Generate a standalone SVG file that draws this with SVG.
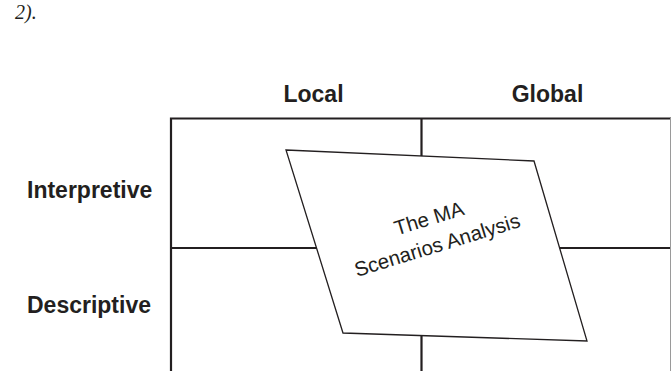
<svg xmlns="http://www.w3.org/2000/svg" width="671" height="371" viewBox="0 0 671 371">
<style>
.grid{stroke:#231f20;stroke-width:2.2;fill:none}
.hdr{font-family:"Liberation Sans",Arial,sans-serif;font-weight:bold;font-size:23px;fill:#231f20}
.ma{font-family:"Liberation Sans",Arial,sans-serif;font-size:20.5px;fill:#231f20;text-anchor:middle}
.para{fill:#fff;stroke:#231f20;stroke-width:1.3}
</style>
<rect width="671" height="371" fill="#fff"/>
<text x="15" y="19" font-family="'Liberation Serif',serif" font-style="italic" font-size="20" fill="#231f20">2).</text>
<g id="grid">
<path class="grid" d="M171,371 V118.5 H671 M421.5,118.5 V371 M171,248 H671"/>
<line x1="670.5" y1="118" x2="670.5" y2="371" stroke="#9a9a9a" stroke-width="1"/>
</g>
<g id="headers">
<text class="hdr" x="313.5" y="102" text-anchor="middle">Local</text>
<text class="hdr" x="547.5" y="101.5" text-anchor="middle">Global</text>
<text class="hdr" x="27" y="198">Interpretive</text>
<text class="hdr" x="27" y="313">Descriptive</text>
</g>
<g id="scenario">
<polygon class="para" points="286,150 534,161 587,341 343,333"/>
<g transform="translate(431,225) rotate(-17)">
<text class="ma" x="0" y="0">The MA</text>
<text class="ma" x="0" y="28">Scenarios Analysis</text>
</g>
</g>
<g id="connectors"></g>
</svg>
